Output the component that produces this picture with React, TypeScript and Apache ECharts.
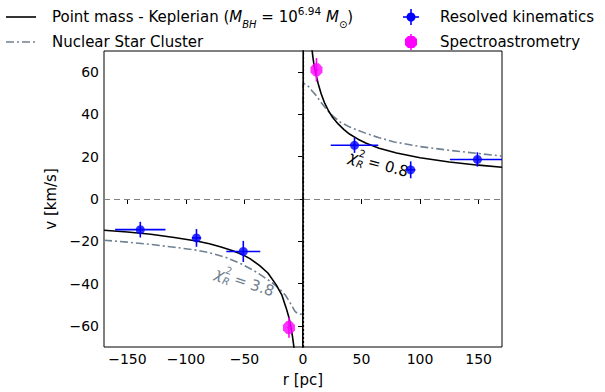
import React, { useEffect, useRef } from "react";
import * as echarts from "echarts";

const xTicks = [-150, -100, -50, 0, 50, 100, 150];
const yTicks = [-60, -40, -20, 0, 20, 40, 60];

// Resolved kinematics: r, v, r error, v error
const resolvedR = [-139, -91, -51, 44, 92, 149];
const resolvedV = [-14.5, -18.4, -24.8, 25.4, 13.8, 18.7];
const resolvedRErr = [21.5, 4, 14.5, 20.3, 4, 23.5];
const resolvedVErr = [3.7, 4.2, 5, 3.6, 4, 3.4];

// Spectroastrometry
const spectroR = [-12, 11.5];
const spectroV = [-60.8, 61.1];
const spectroRErr = [1.5, 1.5];
const spectroVErr = [4.8, 5.6];

// Point mass - Keplerian model
const keplerR = [-170, -150, -130, -110, -91, -80, -70, -60, -52, -45, -37, -30, -23, -18, -14.4, -12, -10.2, -9, -8, -7, -0.2,
  0.2, 7.5, 8.5, 9.5, 11, 13, 15.5, 18.3, 22, 25.4, 30, 35, 40, 47, 54, 65, 80, 100, 125, 150, 170];
const keplerV = [-14.8, -15.6, -16.7, -18.2, -19.9, -21.2, -22.7, -24.5, -26.2, -28.3, -31.5, -35, -40.5, -45.5, -51.5, -56, -61, -65, -69, -73, -80,
  80, 71.5, 67, 63, 59, 54.5, 49.8, 45.6, 41.5, 38.5, 35.5, 32.8, 30.6, 28.3, 26.4, 24, 21.8, 19.5, 17.5, 16, 15];

// Nuclear Star Cluster model
const nscR = [-170, -150, -130, -110, -91, -80, -65, -51.5, -40, -34, -27, -20, -15, -11.6, -9, -7, -5, -3, 0,
  0, 2.6, 5, 8, 11.2, 15, 20, 25.4, 32, 40, 54, 65, 78, 100, 124, 150, 170];
const nscV = [-19.5, -20.4, -21.5, -22.8, -24.2, -25.4, -27.8, -31, -34.5, -36.7, -39.3, -42.5, -45.5, -48.5, -51, -53, -54, -54.4, -54.6,
  54.8, 54.2, 53, 51, 49, 46, 42.5, 39.3, 36.3, 34, 31, 29, 27, 24.8, 23.1, 21.5, 20.3];

const FONT = "DejaVu Sans";
const NSC_COLOR = "#708090";
const BLUE = "#0000ff";
const MAGENTA = "#ff00ff";
const OCT = "path://M3,0 L7,0 L10,3 L10,7 L7,10 L3,10 L0,7 L0,3 Z";

const minus = (v: number) => String(v).replace("-", "\u2212");

function errRender(color: string) {
  return (params: any, api: any) => {
    const x = api.value(0), y = api.value(1), xe = api.value(2), ye = api.value(3);
    const a = api.coord([x - xe, y]);
    const b = api.coord([x + xe, y]);
    const c = api.coord([x, y - ye]);
    const d = api.coord([x, y + ye]);
    return {
      type: "group",
      children: [
        { type: "line", shape: { x1: a[0], y1: a[1], x2: b[0], y2: b[1] }, style: { stroke: color, lineWidth: 1.6 } },
        { type: "line", shape: { x1: c[0], y1: c[1], x2: d[0], y2: d[1] }, style: { stroke: color, lineWidth: 1.6 } },
      ],
    };
  };
}

function chiLabel(x: number, y: number, rot: number, value: string, color: string) {
  return {
    type: "group",
    x,
    y,
    rotation: rot,
    children: [
      { type: "text", x: -30, y: 0, style: { text: "\u03c7", font: `italic 15px "${FONT}"`, fill: color, textAlign: "left", textVerticalAlign: "middle" } },
      { type: "text", x: -21, y: -6, style: { text: "2", font: `10px "${FONT}"`, fill: color, textAlign: "left", textVerticalAlign: "middle" } },
      { type: "text", x: -21, y: 5, style: { text: "R", font: `italic 10px "${FONT}"`, fill: color, textAlign: "left", textVerticalAlign: "middle" } },
      { type: "text", x: -10, y: 0, style: { text: "= " + value, font: `15px "${FONT}"`, fill: color, textAlign: "left", textVerticalAlign: "middle" } },
    ],
  };
}

export default function App() {
  const ref = useRef<HTMLDivElement>(null);
  useEffect(() => {
    document.body.style.margin = "0";
    if (!ref.current) return;
    const chart = echarts.init(ref.current, null, { renderer: "svg" });
    const kepler = keplerR.map((r, i) => [r, keplerV[i]]);
    const nsc = nscR.map((r, i) => [r, nscV[i]]);
    const resolved = resolvedR.map((r, i) => [r, resolvedV[i], resolvedRErr[i], resolvedVErr[i]]);
    const spectro = spectroR.map((r, i) => [r, spectroV[i], spectroRErr[i], spectroVErr[i]]);

    const axisCommon = {
      type: "value",
      axisLine: { show: false },
      splitLine: { show: false },
    };

    chart.setOption({
      animation: false,
      textStyle: { fontFamily: FONT },
      grid: { left: 104, right: 103, top: 51, bottom: 45, show: true, borderColor: "#000", borderWidth: 1, backgroundColor: "transparent" },
      xAxis: {
        ...axisCommon,
        min: -170,
        max: 170,
        axisTick: { show: true, customValues: xTicks, length: 5, lineStyle: { color: "#000" } },
        axisLabel: { customValues: xTicks, formatter: minus, color: "#000", fontSize: 14, margin: 5, fontFamily: FONT },
        name: "r [pc]",
        nameLocation: "middle",
        nameGap: 25,
        nameTextStyle: { color: "#000", fontSize: 15, fontFamily: FONT },
      },
      yAxis: {
        ...axisCommon,
        min: -70,
        max: 70,
        axisTick: { show: true, customValues: yTicks, length: 5, lineStyle: { color: "#000" } },
        axisLabel: { customValues: yTicks, formatter: minus, color: "#000", fontSize: 14, margin: 5, fontFamily: FONT },
        name: "v [km/s]",
        nameLocation: "middle",
        nameGap: 36,
        nameRotate: 90,
        nameTextStyle: { color: "#000", fontSize: 15, fontFamily: FONT },
      },
      series: [
        {
          type: "line",
          data: [],
          markLine: {
            silent: true,
            symbol: "none",
            label: { show: false },
            data: [
              { yAxis: 0, lineStyle: { color: "#808080", type: [6, 4], width: 1.2 } },
              { xAxis: 0, lineStyle: { color: "#000", type: [2, 2], width: 1.2 } },
            ],
          },
        },
        {
          name: "Nuclear Star Cluster",
          type: "line",
          data: nsc,
          showSymbol: false,
          symbol: "none",
          clip: true,
          lineStyle: { color: NSC_COLOR, width: 1.6, type: [8, 3, 2, 3] },
          z: 2,
        },
        {
          name: "Point mass - Keplerian",
          type: "line",
          data: kepler,
          showSymbol: false,
          symbol: "none",
          clip: true,
          lineStyle: { color: "#000", width: 1.6 },
          z: 3,
        },
        {
          type: "custom",
          data: resolved,
          encode: { x: 0, y: 1 },
          renderItem: errRender(BLUE),
          clip: true,
          z: 4,
        },
        {
          name: "Resolved kinematics",
          type: "scatter",
          data: resolved.map((d) => [d[0], d[1]]),
          symbol: "circle",
          symbolSize: 9,
          itemStyle: { color: BLUE },
          z: 5,
        },
        {
          type: "custom",
          data: spectro,
          encode: { x: 0, y: 1 },
          renderItem: errRender(MAGENTA),
          clip: true,
          z: 4,
        },
        {
          name: "Spectroastrometry",
          type: "scatter",
          data: spectro.map((d) => [d[0], d[1]]),
          symbol: OCT,
          symbolSize: [12, 13],
          symbolKeepAspect: false,
          itemStyle: { color: MAGENTA },
          z: 5,
        },
      ],
      graphic: [
        { type: "line", shape: { x1: 6, y1: 17, x2: 36, y2: 17 }, style: { stroke: "#000", lineWidth: 1.6 } },
        {
          type: "text",
          x: 52,
          y: 17,
          style: {
            text: "{n|Point mass - Keplerian (}{i|M}{sb|BH}{n| = 10}{sp|6.94}{n| }{i|M}{sb|\u2299}{n|)}",
            textVerticalAlign: "middle",
            textAlign: "left",
            fill: "#000",
            rich: {
              n: { fontSize: 15, fontFamily: FONT, lineHeight: 24, verticalAlign: "middle" },
              i: { fontSize: 15, fontFamily: FONT, fontStyle: "italic", lineHeight: 24, verticalAlign: "middle" },
              sb: { fontSize: 10, fontFamily: FONT, fontStyle: "italic", lineHeight: 12, verticalAlign: "bottom" },
              sp: { fontSize: 10.5, fontFamily: FONT, lineHeight: 12, verticalAlign: "top" },
            },
          },
        },
        { type: "line", shape: { x1: 6, y1: 42, x2: 36, y2: 42 }, style: { stroke: NSC_COLOR, lineWidth: 1.6, lineDash: [8, 3, 2, 3] } },
        { type: "text", x: 52, y: 42, style: { text: "Nuclear Star Cluster", font: `15px "${FONT}"`, fill: "#000", textVerticalAlign: "middle" } },
        { type: "line", shape: { x1: 403, y1: 17, x2: 419, y2: 17 }, style: { stroke: BLUE, lineWidth: 1.6 } },
        { type: "line", shape: { x1: 411, y1: 9, x2: 411, y2: 25 }, style: { stroke: BLUE, lineWidth: 1.6 } },
        { type: "circle", shape: { cx: 411, cy: 17, r: 4.5 }, style: { fill: BLUE } },
        { type: "text", x: 440, y: 17, style: { text: "Resolved kinematics", font: `15px "${FONT}"`, fill: "#000", textVerticalAlign: "middle" } },
        { type: "line", shape: { x1: 411, y1: 34, x2: 411, y2: 50 }, style: { stroke: MAGENTA, lineWidth: 1.6 } },
        {
          type: "polygon",
          shape: { points: [[408, 36], [414, 36], [417, 39], [417, 45], [414, 48], [408, 48], [405, 45], [405, 39]] },
          style: { fill: MAGENTA },
        },
        { type: "text", x: 440, y: 42, style: { text: "Spectroastrometry", font: `15px "${FONT}"`, fill: "#000", textVerticalAlign: "middle" } },
        chiLabel(378, 164, -0.26, "0.8", "#000"),
        chiLabel(244, 282, -0.32, "3.8", NSC_COLOR),
      ],
    });
    return () => chart.dispose();
  }, []);
  return <div ref={ref} style={{ width: 605, height: 392 }} />;
}
